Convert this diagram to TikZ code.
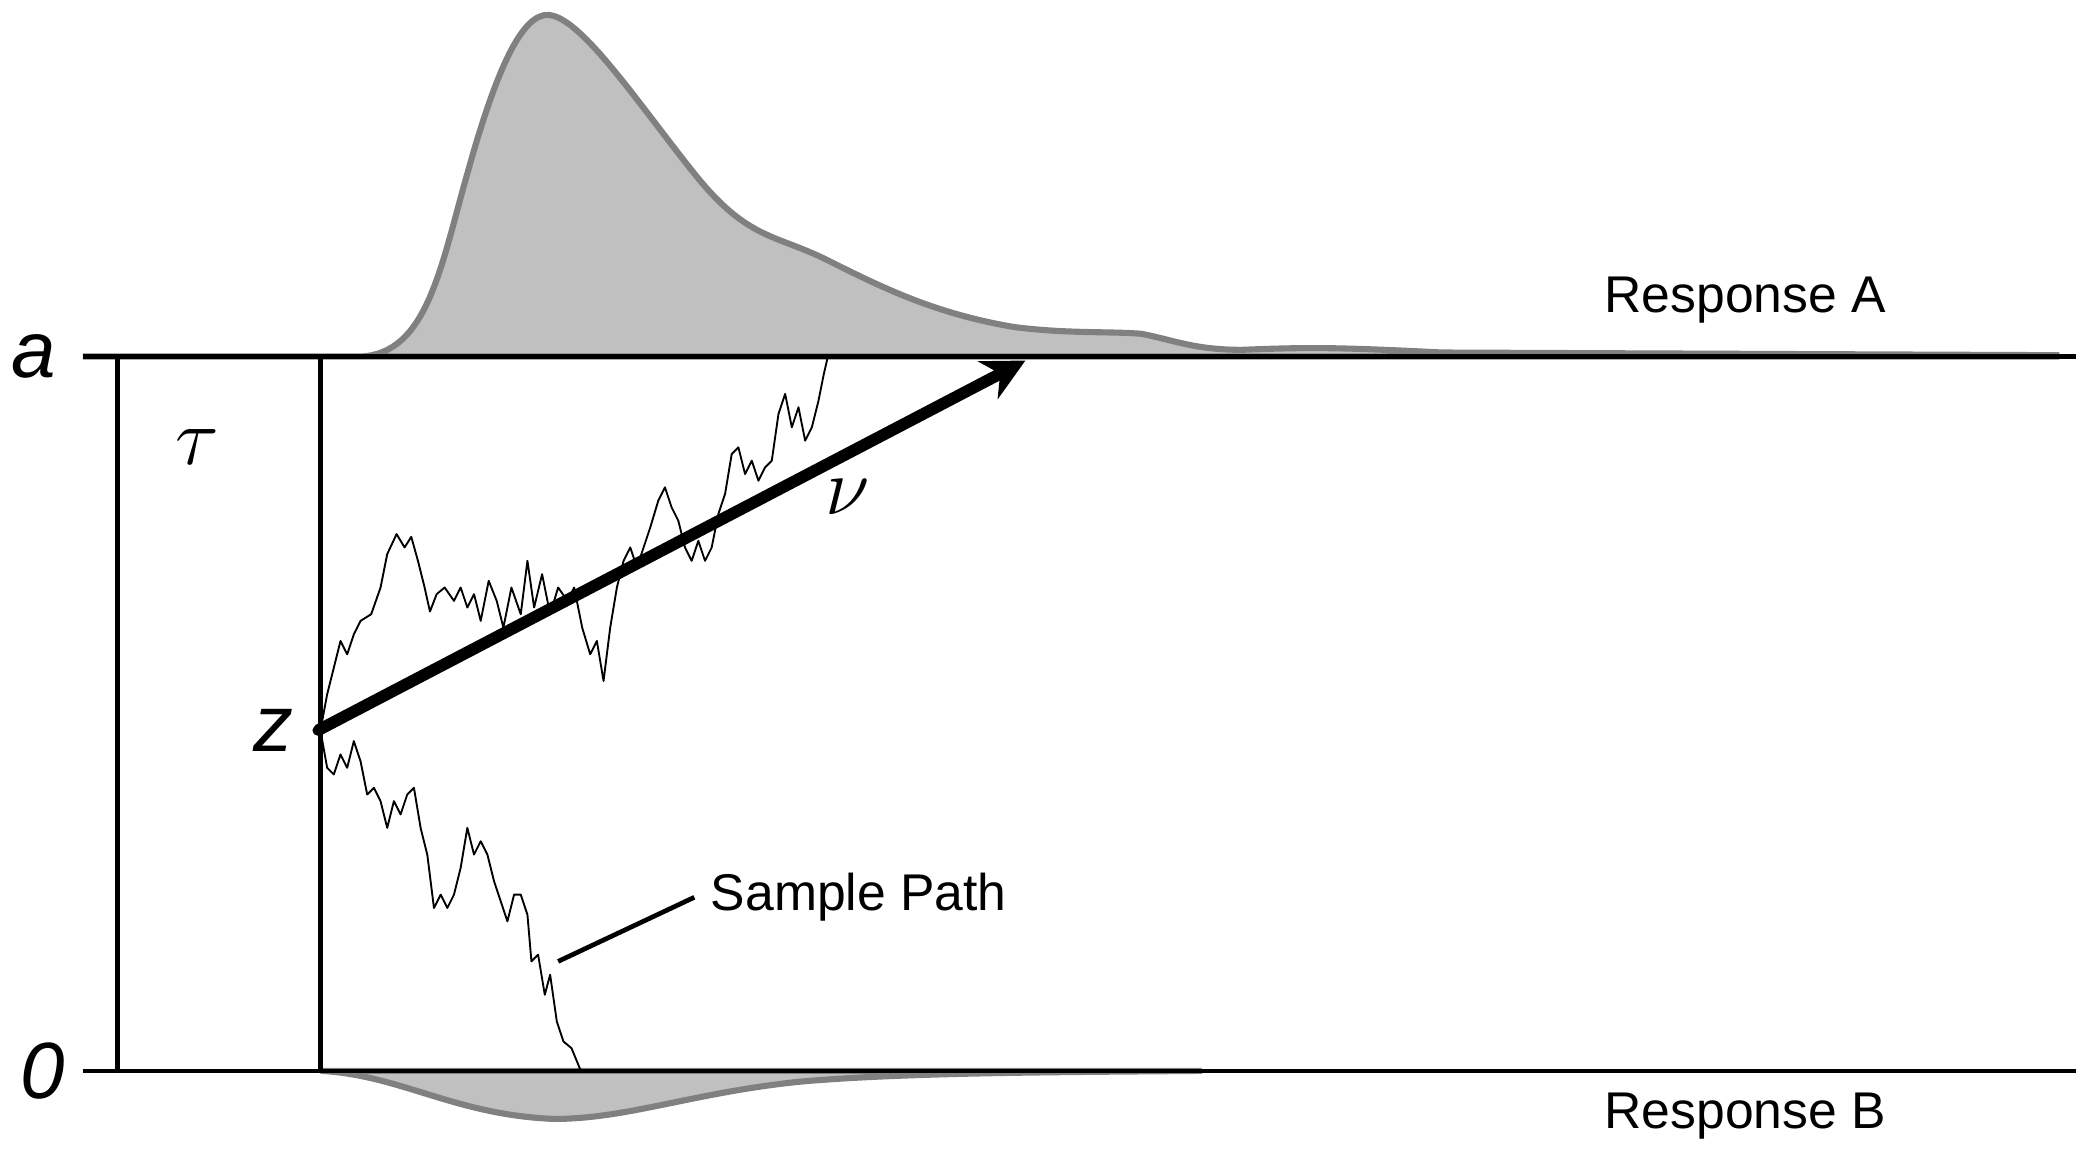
\documentclass[tikz,border=0pt]{standalone}
\usepackage{fontspec}
\setmainfont{Liberation Sans}
\usetikzlibrary{arrows.meta}
\definecolor{densfill}{RGB}{192,192,192}
\definecolor{densline}{RGB}{128,128,128}
\tikzstyle{density} = [draw=densline, fill=densfill, line width=1.3pt]
\tikzstyle{bound} = [line width=1pt]
\tikzstyle{param} = [font=\fontsize{17}{17}\selectfont\itshape]
\tikzstyle{resp} = [font=\fontsize{11}{11}\selectfont]
\tikzstyle{walk} = [line width=0.4pt, line join=round]
\begin{document}
\begin{tikzpicture}[x=0.01cm,y=-0.01cm]
\useasboundingbox (0,0) rectangle (1560,867);

%% Densities %%
\draw[density] (62,267) -- (270,267) .. controls (320,265) and (330,200) .. (350,130)
  .. controls (375,40) and (395,5) .. (415,12) .. controls (440,20) and (480,80) .. (520,130)
  .. controls (560,180) and (580,175) .. (620,195) .. controls (660,215) and (700,235) .. (760,245)
  .. controls (800,250) and (830,248) .. (855,250) .. controls (880,255) and (895,262) .. (930,262)
  .. controls (980,260) and (1000,260) .. (1080,264) -- (1540,266) -- (1540,267) -- cycle;
\draw[density] (240,802) .. controls (300,805) and (340,835) .. (415,838)
  .. controls (470,838) and (520,818) .. (600,810) .. controls (680,803) and (800,803) .. (900,802) -- cycle;

%% Boundaries %%
\coordinate (aL) at (62,267);
\coordinate (aR) at (1555,267);
\coordinate (oL) at (62,802);
\coordinate (oR) at (1555,802);
\draw[bound] (aL) -- (aR);
\draw[bound] (oL) -- (oR);
\draw[bound] (88,267) -- (88,802);
\draw[bound] (240,267) -- (240,802);

%% Labels %%
\node[param] (alabel) at (25,267) {a};
\node[param] (olabel) at (32,802) {0};
\node[param] (taulabel) at (148,335) {$\tau$};
\node[param] (zlabel) at (205,547) {z};
\node[param] (nulabel) at (635,372) {$\nu$};
\node[resp] (respA) at (1307,225) {Response A};
\node[resp] (respB) at (1307,836) {Response B};
\node[resp, anchor=west] (sample) at (520,672) {Sample Path};

%% Sample paths %%
\coordinate (start) at (238,547);
\draw[walk] (240,547) -- (245,520) -- (250,500) -- (255,480) -- (260,490) -- (265,475) -- (270,465) -- (278,460) -- (285,440) -- (290,415) -- (297,400) -- (303,410) -- (308,402) -- (313,420) -- (318,440) -- (322,458) -- (327,445) -- (333,440) -- (340,450) -- (345,440) -- (350,455) -- (355,445) -- (360,465) -- (366,435) -- (372,450) -- (377,470) -- (383,440) -- (390,460) -- (395,420) -- (400,455) -- (406,430) -- (412,460) -- (418,440) -- (425,450) -- (430,440) -- (436,470) -- (442,490) -- (447,480) -- (452,510) -- (457,470) -- (462,440) -- (467,420) -- (472,410) -- (477,425) -- (482,410) -- (487,395) -- (493,375) -- (498,365) -- (503,380) -- (508,390) -- (513,410) -- (518,420) -- (523,405) -- (528,420) -- (533,410) -- (538,385) -- (543,370) -- (548,340) -- (553,335) -- (558,355) -- (563,345) -- (568,360) -- (573,350) -- (578,345) -- (583,310) -- (588,295) -- (593,320) -- (598,305) -- (603,330) -- (608,320) -- (613,300) -- (617,280) -- (620,267);
\draw[walk] (240,547) -- (245,575) -- (250,580) -- (255,565) -- (260,575) -- (265,555) -- (270,570) -- (275,595) -- (280,590) -- (285,600) -- (290,620) -- (295,600) -- (300,610) -- (305,595) -- (310,590) -- (315,620) -- (320,640) -- (325,680) -- (330,670) -- (335,680) -- (340,670) -- (345,650) -- (350,620) -- (355,640) -- (360,630) -- (365,640) -- (370,660) -- (375,675) -- (380,690) -- (385,670) -- (390,670) -- (395,685) -- (398,720) -- (403,715) -- (408,745) -- (412,730) -- (417,765) -- (422,780) -- (428,785) -- (435,802);
\coordinate (pathpt) at (418,720);
\draw[line width=1pt] (pathpt) -- (sample.west);

%% Drift %%
\coordinate (drift) at (768,270);
\fill (start) circle (4);
\draw[-{Stealth[length=9pt,width=9pt]}, line width=2.5pt] (start) -- (drift);
\end{tikzpicture}
\end{document}
